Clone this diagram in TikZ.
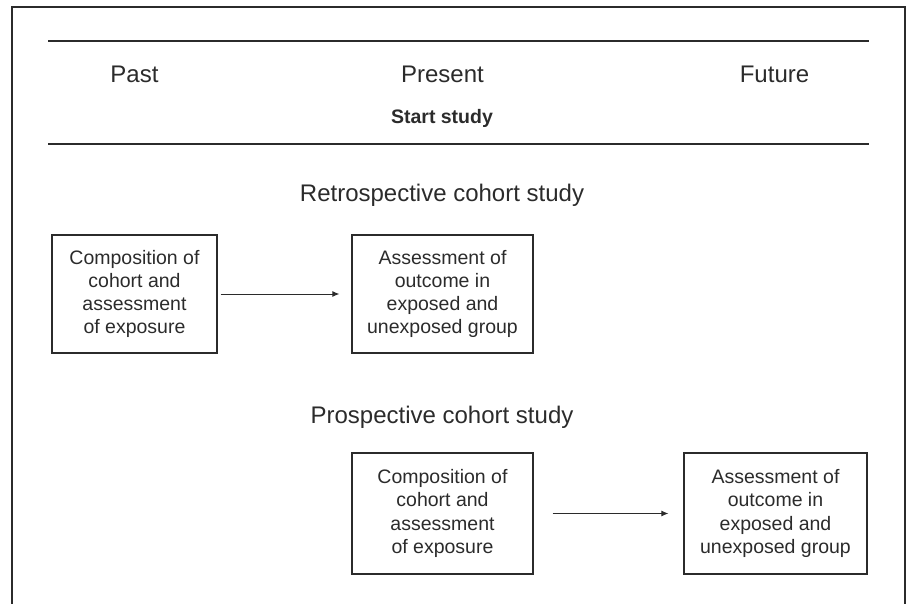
\documentclass[tikz,border=0pt]{standalone}
\usepackage{fontspec}
\setmainfont{Liberation Sans}
\usetikzlibrary{arrows.meta}
\definecolor{ink}{HTML}{2B2B2B}
\tikzset{
	timetext/.style={anchor=base, text=ink, font=\fontsize{24}{28}\selectfont},
	studybox/.style={draw=ink, line width=1.3pt, align=center, inner sep=0pt, text=ink, font=\fontsize{19.5}{23.3}\selectfont},
	timearrow/.style={draw=ink, line width=0.9pt, -{Latex[length=7pt,width=6pt]}}
}

\begin{document}
\begin{tikzpicture}[x=1pt, y=-1pt]
		%%%%% START %%%%%
		\useasboundingbox (0, 0) rectangle (906, 604);
		
		\draw[ink, line width=1.4pt] (12, 604) -- (12, 7) -- (905, 7) -- (905, 604);
		
		\draw[ink, line width=1.4pt] (48, 41) -- (869, 41);
		\draw[ink, line width=1.4pt] (48, 144) -- (869, 144);
		
		\node[timetext] (past) at (134.5, 83) {Past};
		\node[timetext] (present) at (442.5, 83) {Present};
		\node[timetext] (future) at (774.5, 83) {Future};
		\node[timetext, font=\fontsize{19.5}{23}\selectfont\bfseries] (start) at (442, 124) {Start study};
		
		\node[timetext] (retro) at (442, 202) {Retrospective cohort study};
		\node[studybox, minimum width=165, minimum height=118] (rcomp) at (134.5, 294)
			{Composition of\\cohort and\\assessment\\of exposure};
		\node[studybox, minimum width=181, minimum height=118] (rout) at (442.5, 294)
			{Assessment of\\outcome in\\exposed and\\unexposed group};
		\draw[timearrow, shorten <=3pt, shorten >=12pt] (rcomp) -- (rout);
		
		\node[timetext] (prosp) at (442, 424) {Prospective cohort study};
		\node[studybox, minimum width=181, minimum height=121] (pcomp) at (442.5, 513.5)
			{Composition of\\cohort and\\assessment\\of exposure};
		\node[studybox, minimum width=183, minimum height=121] (pout) at (775.5, 513.5)
			{Assessment of\\outcome in\\exposed and\\unexposed group};
		\draw[timearrow, shorten <=19pt, shorten >=15pt] (pcomp) -- (pout);
		
		%%%%% END %%%%%
	\end{tikzpicture}
\end{document}
